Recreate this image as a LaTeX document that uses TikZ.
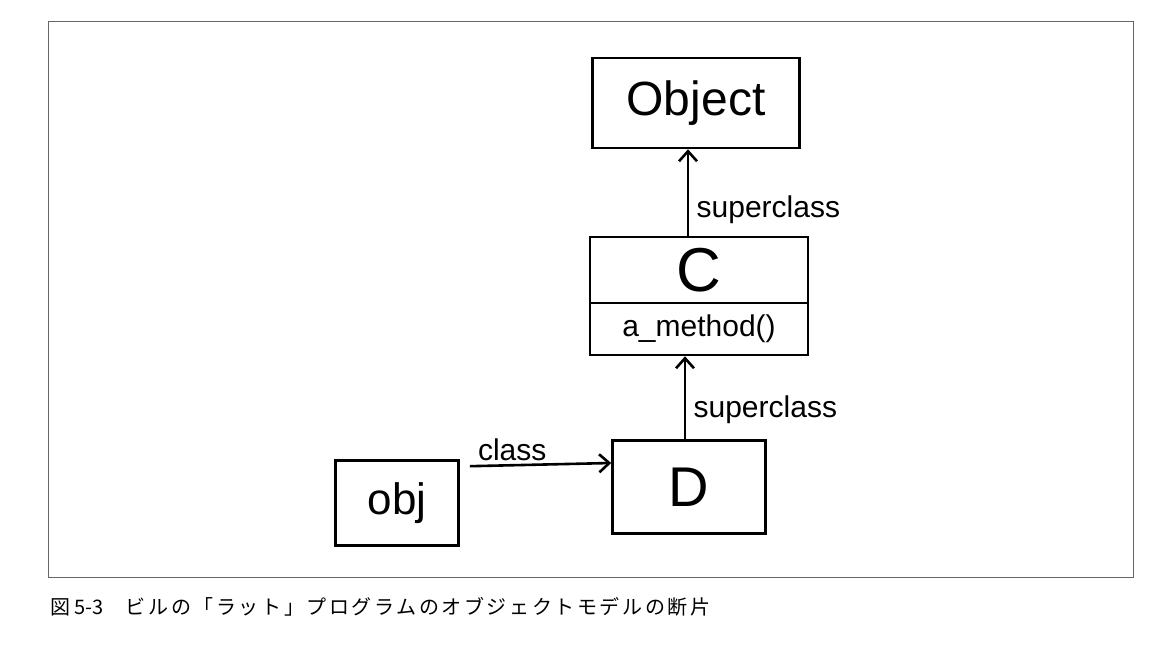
\documentclass[tikz,border=0pt]{standalone}
\usepackage{fontspec}
\setsansfont{Liberation Sans}
\newfontfamily\jpfont[LetterSpace=13]{Noto Sans CJK JP}
\newfontfamily\jpnum{Noto Sans CJK JP}
\usetikzlibrary{arrows.meta}
\usetikzlibrary{positioning}

\begin{document}
\begin{tikzpicture}[x=1pt,y=-1pt,
  box/.style={draw,line width=2.6pt,inner sep=0pt},
  link/.style={line width=2.6pt,-{Straight Barb[length=10pt,width=18pt,line width=2.6pt]}},
  lab/.style={font=\sffamily\fontsize{30}{32}\selectfont}]
\useasboundingbox (0,0) rectangle (1173,669);
\draw[black!60,line width=1pt] (48,22) rectangle (1133,577);

\path (696,103) node[box,minimum width=207pt,minimum height=90pt] (object) {\sffamily\fontsize{48}{50}\selectfont Object};
\path (699,270) node[box,minimum width=218pt,minimum height=66pt] (cname) {\sffamily\fontsize{62}{64}\selectfont C};
\path (699,329) node[box,minimum width=218pt,minimum height=52pt] (cmeth) {\sffamily\fontsize{30}{32}\selectfont a\_method()};
\path (689,487) node[box,minimum width=153pt,minimum height=93pt] (d) {\sffamily\fontsize{56}{58}\selectfont D};
\path (397,503) node[box,minimum width=123pt,minimum height=85pt] (obj) {\sffamily\fontsize{44}{46}\selectfont obj};

\draw[link] ([xshift=-11pt]cname.north) -- ([xshift=-11pt]cname.north |- object.south)
   node[lab,pos=.3,anchor=west,xshift=4pt] {superclass};
\draw[link] ([xshift=-4pt]d.north) -- ([xshift=-4pt]d.north |- cmeth.south)
   node[lab,pos=.35,anchor=west,xshift=4pt] {superclass};
\draw[link] ([xshift=10pt,yshift=-7pt]obj.north east) -- ([yshift=24pt]d.west)
   node[lab,pos=.3,anchor=south] {class};

\path (50,607) node[anchor=west,inner sep=0pt] (caption) {\fontsize{20}{22}\selectfont{\jpnum 図 5-3}\hspace{1.1em}{\jpfont ビルの「ラット」プログラムのオブジェクトモデルの断片}};
\end{tikzpicture}
\end{document}
